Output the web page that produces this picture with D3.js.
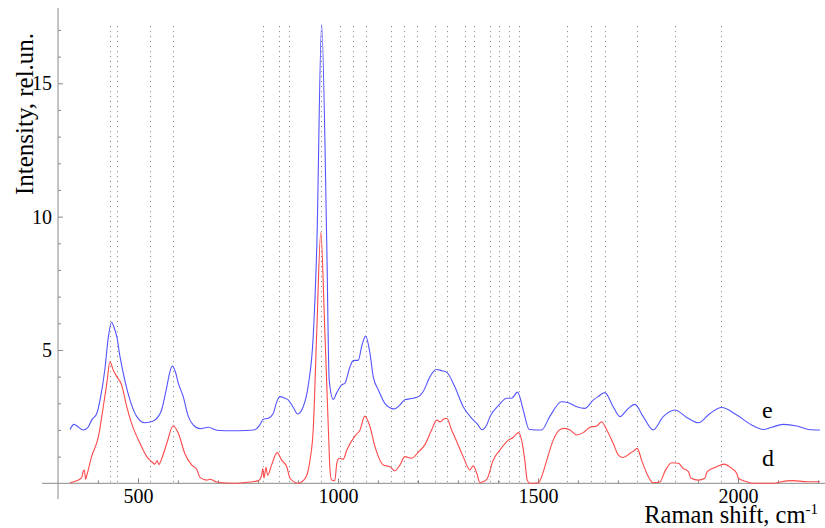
<!DOCTYPE html>
<html>
<head>
<meta charset="utf-8">
<script src="https://cdn.jsdelivr.net/npm/d3@7"></script>
<style>
  html, body { margin: 0; padding: 0; background: #fff; }
  svg { display: block; font-family: "Liberation Serif", "Times New Roman", serif; }
</style>
</head>
<body>
<svg id="chart" width="825" height="528"></svg>
<script>
// Raman spectra of two samples (curves e and d), intensity in relative units.
const shiftE = [330, 340, 350, 363, 375, 384, 397, 405, 417, 426, 434, 440, 447, 455, 467, 480, 497, 517, 530, 542,
  559, 572, 580, 586, 593, 601, 613, 626, 638, 655, 676, 697, 738, 770, 792, 805, 813, 826, 838, 848,
  855, 866, 876, 888, 899, 913, 926, 938, 947, 959, 972, 978, 988, 997, 1009, 1017, 1030, 1038, 1051, 1059,
  1069, 1080, 1088, 1101, 1117, 1140, 1155, 1167, 1188, 1203, 1213, 1230, 1245, 1260, 1272, 1292, 1313, 1334, 1347, 1360,
  1372, 1380, 1401, 1422, 1434, 1449, 1463, 1478, 1509, 1530, 1559, 1576, 1597, 1617, 1638, 1650, 1667, 1688, 1705, 1722,
  1742, 1763, 1788, 1813, 1842, 1872, 1901, 1930, 1959, 1997, 2034, 2063, 2084, 2113, 2147, 2176, 2205];
const intensityE = [2.02, 2.21, 2.12, 2.0, 2.1, 2.37, 2.62, 3.12, 4.25, 5.5, 6.04, 5.85, 5.5, 4.75, 3.87, 3.12, 2.5, 2.27, 2.3, 2.37,
  2.75, 3.62, 4.2, 4.4, 4.2, 3.75, 3.25, 2.5, 2.19, 2.05, 2.1, 1.99, 1.97, 1.98, 2.01, 2.2, 2.4, 2.44, 2.62, 3.1,
  3.25, 3.2, 3.12, 2.85, 2.6, 2.87, 3.7, 5.5, 8.9, 17.2, 8.9, 3.87, 3.15, 3.4, 3.69, 3.75, 4.37, 4.6, 4.62, 5.12,
  5.52, 4.87, 4.0, 3.5, 3.0, 2.79, 2.94, 3.13, 3.19, 3.27, 3.44, 4.0, 4.27, 4.22, 4.16, 3.62, 2.87, 2.44, 2.25, 2.01,
  2.2, 2.5, 2.91, 3.19, 3.19, 3.42, 2.75, 2.02, 2.0, 2.52, 3.06, 3.02, 2.87, 2.81, 3.12, 3.25, 3.4, 2.87, 2.5, 2.75,
  2.96, 2.5, 2.0, 2.5, 2.75, 2.47, 2.27, 2.62, 2.84, 2.56, 2.19, 2.02, 2.1, 2.21, 2.15, 2.02, 2.0];

const shiftD = [330, 347, 359, 363, 366, 369, 372, 384, 401, 412, 422, 430, 438, 447, 459, 472, 484, 505, 522, 535,
  542, 548, 552, 560, 572, 588, 601, 617, 634, 647, 655, 672, 680, 697, 738, 780, 801, 809, 812, 815,
  820, 824, 834, 848, 859, 872, 880, 901, 913, 922, 930, 938, 947, 957, 967, 976, 980, 984, 992, 997,
  1003, 1013, 1022, 1042, 1055, 1067, 1080, 1092, 1113, 1130, 1142, 1155, 1167, 1184, 1202, 1217, 1234, 1247, 1255, 1263,
  1272, 1284, 1297, 1313, 1330, 1338, 1347, 1355, 1372, 1388, 1405, 1426, 1438, 1451, 1459, 1467, 1473, 1480, 1501, 1509,
  1522, 1538, 1555, 1567, 1580, 1597, 1613, 1630, 1647, 1659, 1672, 1688, 1701, 1713, 1730, 1742, 1748, 1759, 1772, 1788,
  1805, 1817, 1834, 1851, 1863, 1876, 1882, 1901, 1917, 1923, 1947, 1965, 1984, 1997, 2001, 2022, 2034, 2092, 2105, 2138,
  2172, 2205];
const intensityD = [0.02, 0.1, 0.2, 0.45, 0.5, 0.15, 0.3, 1.0, 1.75, 2.75, 3.75, 4.56, 4.25, 4.0, 3.69, 2.87, 2.25, 1.5, 1.0, 0.8,
  0.72, 0.85, 0.7, 0.95, 1.5, 2.16, 1.87, 1.12, 0.69, 0.52, 0.22, 0.12, 0.15, 0.05, 0.0, 0.05, 0.1, 0.3, 0.55, 0.2,
  0.6, 0.3, 0.69, 1.15, 0.87, 0.62, 0.19, 0.0, 0.1, 0.3, 0.87, 2.0, 5.75, 9.4, 5.75, 2.0, 0.5, 0.12, 0.1, 0.75,
  0.94, 0.9, 1.25, 1.77, 2.0, 2.52, 2.12, 1.4, 0.69, 0.62, 0.47, 0.69, 1.0, 0.94, 1.19, 1.44, 2.0, 2.37, 2.3, 2.4,
  2.44, 2.0, 1.56, 1.0, 0.5, 0.66, 0.37, 0.02, 0.15, 0.87, 1.25, 1.62, 1.72, 1.9, 1.62, 0.87, 0.12, 0.0, 0.02, 0.25,
  0.87, 1.62, 2.02, 2.06, 2.0, 1.81, 1.9, 2.1, 2.15, 2.31, 2.0, 1.5, 1.06, 0.97, 1.12, 1.25, 1.31, 0.87, 0.37, 0.02,
  0.05, 0.44, 0.77, 0.75, 0.56, 0.44, 0.2, 0.12, 0.19, 0.44, 0.62, 0.72, 0.56, 0.37, 0.19, 0.06, 0.0, 0.0, 0.05, 0.1,
  0.06, 0.06];

// Band positions marked with dotted guide lines, cm-1
const bandPositions = [431, 447, 531, 587, 813, 853, 877, 958, 1004, 1037, 1071, 1132, 1166, 1198, 1243, 1272,
  1317, 1340, 1380, 1403, 1428, 1452, 1572, 1632, 1667, 1748, 1843, 1958];

const xMajorTicks = [500, 1000, 1500, 2000];
const xMinorTicks = [400, 600, 700, 800, 900, 1100, 1200, 1300, 1400, 1600, 1700, 1800, 1900, 2100, 2200];
const yMajorTicks = [5, 10, 15];
const yMinorTicks = [1, 2, 3, 4, 6, 7, 8, 9, 11, 12, 13, 14, 16, 17];

const curveLabels = ["e", "d"];

const svg = d3.select("#chart");

const x = d3.scaleLinear().domain([300, 2217.5]).range([58, 825]);
const y = d3.scaleLinear().domain([0, 18]).range([483.3, 3.3]);

const axisColor = "#8a8a8a";

// dotted guide lines
svg.append("g")
  .selectAll("line")
  .data(bandPositions)
  .join("line")
  .attr("x1", d => Math.round(x(d)) + 0.5)
  .attr("x2", d => Math.round(x(d)) + 0.5)
  .attr("y1", y(17.15))
  .attr("y2", y(0))
  .attr("stroke", "#8f8f8f")
  .attr("stroke-width", 1)
  .attr("stroke-dasharray", "1.2,3.8");

// axes lines
svg.append("line")
  .attr("x1", 42).attr("x2", 825)
  .attr("y1", y(0)).attr("y2", y(0))
  .attr("stroke", axisColor).attr("stroke-width", 1);
svg.append("line")
  .attr("x1", x(300)).attr("x2", x(300))
  .attr("y1", 8).attr("y2", 499)
  .attr("stroke", axisColor).attr("stroke-width", 1);

// x axis ticks (pointing into the plot)
const gxMinor = svg.append("g")
  .attr("transform", `translate(0,${y(0)})`)
  .call(d3.axisBottom(x).tickValues(xMinorTicks).tickSize(-3).tickFormat(""));
const gxMajor = svg.append("g")
  .attr("transform", `translate(0,${y(0)})`)
  .call(d3.axisBottom(x).tickValues(xMajorTicks).tickSize(-5).tickPadding(5.5).tickFormat(d3.format("d")));

// y axis ticks
const gyMinor = svg.append("g")
  .attr("transform", `translate(${x(300)},0)`)
  .call(d3.axisLeft(y).tickValues(yMinorTicks).tickSize(-3).tickFormat(""));
const gyMajor = svg.append("g")
  .attr("transform", `translate(${x(300)},0)`)
  .call(d3.axisLeft(y).tickValues(yMajorTicks).tickSize(-5).tickPadding(6).tickFormat(d3.format("d")));

[gxMinor, gxMajor, gyMinor, gyMajor].forEach(g => {
  g.select(".domain").remove();
  g.selectAll(".tick line").attr("stroke", axisColor);
  g.selectAll(".tick text")
    .attr("fill", "#000")
    .style("font-family", "'Liberation Serif', 'Times New Roman', serif")
    .style("font-size", "20px");
});

// spectra
const line = d3.line()
  .x(d => x(d[0]))
  .y(d => y(d[1]))
  .curve(d3.curveMonotoneX);

svg.append("path")
  .datum(d3.zip(shiftD, intensityD))
  .attr("d", line)
  .attr("fill", "none")
  .attr("stroke", "#ff4848")
  .attr("stroke-width", 1.1);

svg.append("path")
  .datum(d3.zip(shiftE, intensityE))
  .attr("d", line)
  .attr("fill", "none")
  .attr("stroke", "#5454ff")
  .attr("stroke-width", 1.1);

// curve labels
svg.append("text").attr("x", 762).attr("y", 418)
  .style("font-size", "24px").text(curveLabels[0]);
svg.append("text").attr("x", 762).attr("y", 466)
  .style("font-size", "24px").text(curveLabels[1]);

// axis titles
svg.append("text")
  .attr("transform", "translate(33,114) rotate(-90)")
  .attr("text-anchor", "middle")
  .style("font-size", "25px")
  .text("Intensity, rel.un.");

const xTitle = svg.append("text")
  .attr("x", 818).attr("y", 523)
  .attr("text-anchor", "end")
  .style("font-size", "24.5px");
xTitle.append("tspan").text("Raman shift, cm");
xTitle.append("tspan").attr("dy", -9).style("font-size", "15px").text("-1");
</script>
</body>
</html>
